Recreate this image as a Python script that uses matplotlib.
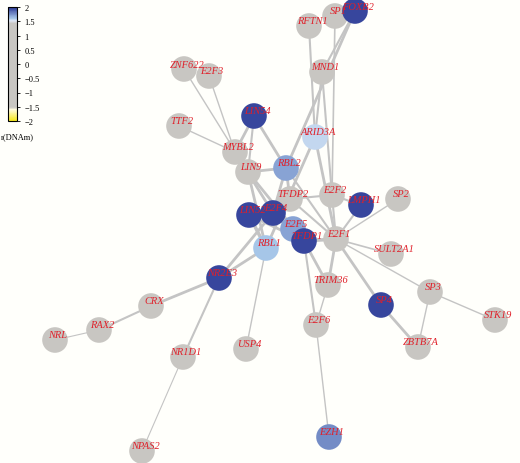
import matplotlib
matplotlib.use("Agg")
import matplotlib.pyplot as plt
from matplotlib.colors import LinearSegmentedColormap, Normalize

nodes = ["RFTN1","SP1","FOXB2","MND1","ZNF622","E2F3","TTF2","LIN54","ARID3A","MYBL2","LIN9","RBL2",
         "TFDP2","E2F2","LMPH1","SP2","LIN52","E2F4","E2F5","TFDP1","E2F1","SULT2A1","RBL1","NR2E3",
         "CRX","RAX2","NRL","NR1D1","NPAS2","USP4","TRIM36","E2F6","EZH1","SP4","SP3","STK19","ZBTB7A"]
node_x = [309,335,355,322,184,209,179,254,315,235,248,286,290,332,361,398,249,273,293,304,336,391,266,219,
          151,99,55,183,142,246,328,316,329,381,430,495,418]
node_y = [27,17,12,73,70,77,127,117,138,153,173,169,200,196,206,200,216,214,230,242,240,255,249,279,
          307,331,341,358,452,350,286,326,438,306,293,321,348]
node_val = [0,0,1.95,0,0,0,0,1.95,1.55,0,0,1.7,0,0,1.95,0,1.95,1.95,1.7,1.95,0,0,1.6,1.95,
            0,0,0,0,0,0,0,0,1.75,1.95,0,0,0]
edges = [("RFTN1","ARID3A"),("SP1","E2F2"),("FOXB2","RBL2"),("FOXB2","MND1"),("MND1","E2F2"),("MND1","ARID3A"),
         ("ZNF622","LIN9"),("E2F3","MYBL2"),("TTF2","MYBL2"),("LIN54","MYBL2"),("LIN54","RBL2"),("LIN54","LIN9"),
         ("MYBL2","LIN9"),("MYBL2","E2F4"),("LIN9","RBL2"),("LIN9","TFDP1"),("LIN9","RBL1"),("RBL2","E2F4"),
         ("RBL2","TFDP2"),("ARID3A","RBL1"),("ARID3A","E2F1"),("TFDP2","E2F2"),("TFDP2","E2F1"),("E2F2","E2F1"),
         ("E2F2","LMPH1"),("LMPH1","E2F1"),("SP2","E2F1"),("E2F1","SULT2A1"),("E2F1","SP3"),("E2F1","SP4"),
         ("E2F1","TRIM36"),("E2F1","TFDP1"),("E2F5","TFDP1"),("E2F4","TFDP1"),("E2F4","E2F5"),("LIN52","RBL1"),
         ("LIN52","E2F4"),("RBL1","NR2E3"),("RBL1","USP4"),("E2F4","NR2E3"),("TFDP1","TRIM36"),("TFDP1","E2F6"),
         ("E2F6","EZH1"),("TRIM36","E2F6"),("NR2E3","CRX"),("NR2E3","NR1D1"),("CRX","RAX2"),("RAX2","NRL"),
         ("NR1D1","NPAS2"),("SP3","STK19"),("SP3","ZBTB7A"),("SP4","ZBTB7A"),("RBL2","E2F1"),("LIN52","TFDP1")]
edge_w = [1.5,1.2,2,1.5,1.5,1.5,1,1,1,2,2,1.5,
          2,2,2,2,2,2,2,2,2,1.5,1.5,1.5,
          1.5,1.5,1,1.2,1,2,
          2,2.5,2.5,2.5,2.5,2.5,
          2.5,2,1,2,2,1.5,
          1,1,2,1.5,1.5,0.8,
          0.8,1,1,2,1.5,2]

cmap = LinearSegmentedColormap.from_list("dn", [(0,"#f6e81a"),(0.1,"#fffbe0"),(0.12,"#c8c6c2"),
                                              (0.86,"#c8c6c2"),(0.88,"#dfe6f4"),(0.9,"#a9c9ea"),(1,"#283593")])
norm = Normalize(-2,2)

fig = plt.figure(figsize=(5.2,4.64), dpi=100, facecolor="#fffffb")
ax = fig.add_axes([0,0,1,1])
ax.set_facecolor("#fffffb")
ax.set_xlim(0,520); ax.set_ylim(464,0); ax.axis("off")
idx = {n:i for i,n in enumerate(nodes)}
for (a,b),w in zip(edges, edge_w):
    i,j = idx[a], idx[b]
    ax.plot([node_x[i],node_x[j]],[node_y[i],node_y[j]], color="#c4c4c4", lw=w, zorder=1)
ax.scatter(node_x, node_y, s=340, c=[cmap(norm(v)) for v in node_val], zorder=2, edgecolors="none")
for n,x,y in zip(nodes,node_x,node_y):
    ax.text(x+3, y-5, n, color="#e0202a", fontsize=7.5, style="italic", family="Liberation Serif",
            ha="center", va="center", zorder=3)

cax = fig.add_axes([8/520, 1-122/464, 9/520, 114/464])
cb = fig.colorbar(plt.cm.ScalarMappable(norm=norm, cmap=cmap), cax=cax, ticks=[2,1.5,1,0.5,0,-0.5,-1,-1.5,-2])
cb.ax.set_yticklabels(["2","1.5","1","0.5","0","−0.5","−1","−1.5","−2"], fontsize=6, family="Liberation Serif")
cb.ax.tick_params(length=2, width=0.6)
cb.outline.set_linewidth(0.8)
fig.text(1/520, 1-137/464, "r(DNAm)", fontsize=6, family="Liberation Serif", va="center")
fig.savefig("out.png", dpi=100, facecolor=fig.get_facecolor())
